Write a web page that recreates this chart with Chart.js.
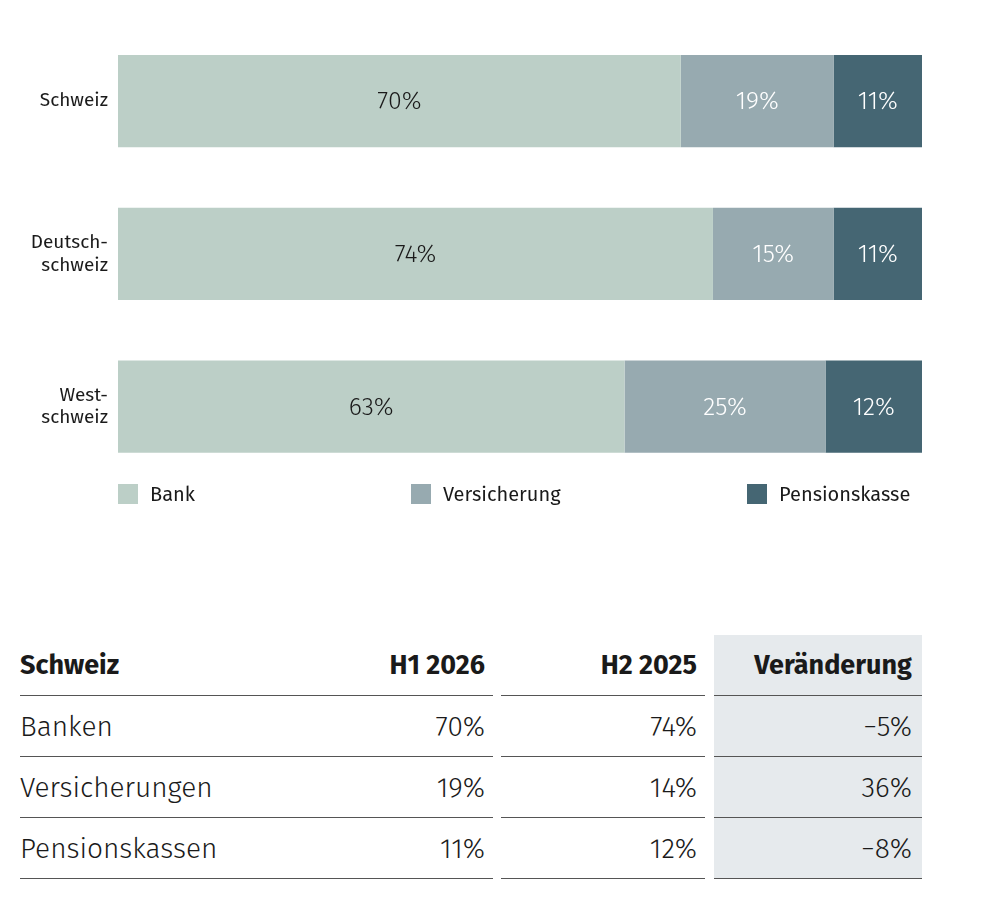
<!DOCTYPE html>
<html><head><meta charset="utf-8">
<script src="https://cdn.jsdelivr.net/npm/chart.js@4"></script>
<style>
body{margin:0;background:#fff;font-family:"Fira Sans","Open Sans",sans-serif;color:#1a1a1a}
#wrap{position:absolute;left:0;top:0;width:1000px;height:530px}
#legend{position:absolute;top:482px;left:0;width:1000px;height:24px;font-size:20px}
#legend div{position:absolute;display:flex;align-items:center}
#legend span.sw{width:20px;height:20px;margin-right:12px;display:inline-block}
#tbl{position:absolute;left:20px;top:635px;display:grid;grid-template-columns:300px 173px 8px 204px 9px 208px}
#tbl div{height:61px;box-sizing:border-box;display:flex;align-items:center;font-size:28px;font-weight:300}
#tbl .c{border-bottom:1px solid #555;justify-content:flex-end;padding-right:8px}
#tbl .l{justify-content:flex-start;padding-left:0}
#tbl .v{background:#e6eaed;padding-right:10px}
#tbl .h{font-weight:700;font-size:27px}
</style></head><body>
<div id="wrap"><canvas id="c"></canvas></div>
<div id="legend"></div>
<div id="tbl"></div>
<script>
const regions = [['Schweiz'], ['Deutsch-','schweiz'], ['West-','schweiz']];
const seriesNames = ['Bank', 'Versicherung', 'Pensionskasse'];
const bank = [70, 74, 63];
const versicherung = [19, 15, 25];
const pensionskasse = [11, 11, 12];
const seriesColors = ['#bccfc7', '#97aab0', '#456673'];
const labelColors = ['#1a1a1a', '#ffffff', '#ffffff'];

const tableHead = ['Schweiz', 'H1 2026', 'H2 2025', 'Veränderung'];
const tableRows = ['Banken', 'Versicherungen', 'Pensionskassen'];
const h1_2026 = ['70%', '19%', '11%'];
const h2_2025 = ['74%', '14%', '12%'];
const change = ['−5%', '36%', '−8%'];

const values = [bank, versicherung, pensionskasse];

const barLabels = {
  id: 'barLabels',
  afterDatasetsDraw(chart) {
    const ctx = chart.ctx;
    ctx.save();
    ctx.font = '300 25px "Fira Sans","Open Sans",sans-serif';
    ctx.textAlign = 'center'; ctx.textBaseline = 'middle';
    chart.data.datasets.forEach((ds, i) => {
      chart.getDatasetMeta(i).data.forEach((bar, j) => {
        ctx.fillStyle = labelColors[i];
        ctx.fillText(ds.data[j] + '%', (bar.x + bar.base) / 2, bar.y + 1);
      });
    });
    ctx.restore();
  }
};

new Chart(document.getElementById('c'), {
  type: 'bar',
  data: {
    labels: regions,
    datasets: seriesNames.map((n, i) => ({
      label: n, data: values[i], backgroundColor: seriesColors[i],
      barPercentage: 0.605, categoryPercentage: 1
    }))
  },
  options: {
    indexAxis: 'y', responsive: true, maintainAspectRatio: false, animation: false,
    layout: { padding: { top: 3, bottom: 47, right: 78 } },
    plugins: { legend: { display: false }, tooltip: { enabled: false } },
    scales: {
      x: { stacked: true, min: 0, max: 100, display: false },
      y: {
        stacked: true, grid: { display: false }, border: { display: false },
        ticks: { color: '#1a1a1a', padding: 2, font: { size: 19, family: '"Fira Sans","Open Sans",sans-serif' } },
        afterFit(s) { s.width = 118; }
      }
    }
  },
  plugins: [barLabels]
});

const legendX = [118, 411, 747];
const lg = document.getElementById('legend');
seriesNames.forEach((n, i) => {
  const d = document.createElement('div');
  d.style.left = legendX[i] + 'px';
  d.innerHTML = '<span class="sw" style="background:' + seriesColors[i] + '"></span>' + n;
  lg.appendChild(d);
});

const t = document.getElementById('tbl');
function row(cells, head) {
  const h = head ? ' h' : '';
  t.insertAdjacentHTML('beforeend',
    '<div class="c l' + h + '">' + cells[0] + '</div>' +
    '<div class="c' + h + '">' + cells[1] + '</div><div></div>' +
    '<div class="c' + h + '">' + cells[2] + '</div><div></div>' +
    '<div class="c v' + h + '">' + cells[3] + '</div>');
}
row(tableHead, true);
tableRows.forEach((r, i) => row([r, h1_2026[i], h2_2025[i], change[i]], false));
</script>
</body></html>
